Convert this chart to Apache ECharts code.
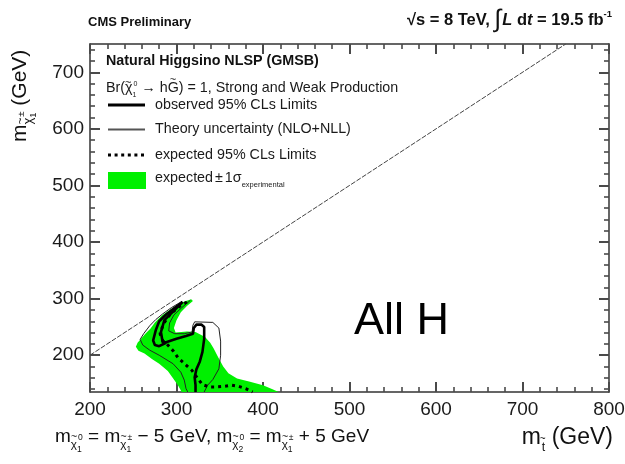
<!DOCTYPE html>
<html>
<head>
<meta charset="utf-8">
<script src="https://cdn.jsdelivr.net/npm/echarts@6/dist/echarts.min.js"></script>
<style>
  html, body { margin: 0; padding: 0; background: #fff; }
  #chart { width: 625px; height: 464px; }
</style>
</head>
<body>
<div id="chart"></div>
<script>
// Exclusion contours in the (stop mass, chargino mass) plane, values in GeV.

// Expected +-1 sigma experimental band (closed outline)
const bandX = [317, 319, 312, 305, 300, 297, 299, 312, 322, 333, 339, 343, 348, 354, 360, 370, 385, 400, 411, 418,
               306, 302, 297, 290, 280, 272, 263, 256, 253, 255, 259, 264, 270, 275, 283, 294, 306];
const bandY = [299, 296, 287, 276, 262, 248, 240, 242, 241, 232, 222, 212, 197, 180, 168, 159, 153, 147, 140, 135,
               135, 146, 157, 172, 185, 193, 203, 208, 215, 222, 229, 238, 247, 258, 270, 282, 293];

// Observed 95% CLs limit
const obsX = [322, 322, 321, 323, 327, 330, 332, 332, 329, 323, 320, 319, 311, 300, 288, 284, 282, 286, 296, 307,
              298, 288, 280, 276, 273, 275, 280, 288];
const obsY = [135, 147, 161, 175, 189, 206, 229, 250, 254, 254, 248, 238, 234, 229, 223, 223, 241, 262, 277, 294,
              284, 272, 260, 244, 226, 218, 216, 222];

// Expected 95% CLs limit
const expX = [312, 304, 293, 285, 281, 284, 290, 296, 302, 310, 318, 324, 330, 338, 346, 355, 364, 372, 380, 388];
const expY = [294, 287, 273, 256, 238, 226, 218, 208, 195, 184, 173, 160, 148, 144, 144, 145, 147, 145, 141, 135];

// Observed limit shifted by the theory uncertainty (upper / lower)
const thUpX = [332, 336, 342, 349, 351, 351, 349, 342, 321, 319, 318, 309, 298, 291, 292, 297, 306, 316];
const thUpY = [135, 147, 157, 176, 200, 225, 248, 258, 259, 253, 241, 238, 238, 243, 257, 271, 284, 297];
const thDnX = [313, 311, 309, 305, 296, 280, 269, 261, 258, 262, 269, 276, 284, 294, 305];
const thDnY = [135, 141, 156, 170, 185, 200, 209, 218, 228, 238, 252, 263, 273, 284, 294];

// Kinematic boundary m(stop) = m(chargino)
const diagX = [200, 750];
const diagY = [200, 750];

// Axis ranges and tick values
const xRange = [200, 800];
const yRange = [135, 750];
const yMajor = [200, 300, 400, 500, 600, 700];
const yMinor = [140, 160, 180, 220, 240, 260, 280, 320, 340, 360, 380, 420, 440, 460, 480,
                520, 540, 560, 580, 620, 640, 660, 680, 720, 740];

const FONT = '"Liberation Sans", Arial, Helvetica, sans-serif';
const pairs = (xs, ys) => xs.map((x, i) => [x, ys[i]]);

// --- small helper to lay out text with sub/superscripts ---
const mctx = document.createElement('canvas').getContext('2d');
function tw(t, s, w, st) {
  mctx.font = (st || 'normal') + ' ' + (w || 'normal') + ' ' + s + 'px ' + FONT;
  return mctx.measureText(t).width;
}
// parts: {t, s, dy, w, st} | {tilde, s, back, dy} | {sup, sub, s, upDy, dnDy}; baseline at (x, y)
function mathText(x, y, parts, color, align) {
  color = color || '#111';
  const items = [];
  let cx = 0;
  parts.forEach(p => {
    if (p.tilde) {
      items.push({ t: '~', s: p.s, x: cx - p.back, y: p.dy });
      return;
    }
    if (p.sup !== undefined || p.sub !== undefined) {
      let wmax = 0;
      if (p.sup !== undefined) {
        items.push({ t: p.sup, s: p.s, x: cx + (p.supDx || 0), y: p.upDy });
        wmax = Math.max(wmax, tw(p.sup, p.s) + (p.supDx || 0));
      }
      if (p.sub !== undefined) {
        items.push({ t: p.sub, s: p.s, x: cx, y: p.dnDy });
        wmax = Math.max(wmax, tw(p.sub, p.s));
      }
      cx += wmax + (p.gap || 0);
      return;
    }
    items.push({ t: p.t, s: p.s, x: cx, y: p.dy || 0, w: p.w, st: p.st });
    cx += tw(p.t, p.s, p.w, p.st) + (p.gap || 0);
  });
  const x0 = align === 'right' ? x - cx : x;
  return {
    type: 'group', x: x0, y: y,
    children: items.map(it => ({
      type: 'text', x: it.x, y: it.y - 0.34 * it.s,
      style: {
        text: it.t, fill: color, fontSize: it.s, fontFamily: FONT,
        fontWeight: it.w || 'normal', fontStyle: it.st || 'normal',
        verticalAlign: 'middle', align: 'left'
      }
    }))
  };
}
// m with a chi-tilde subscript carrying stacked charge/index labels
function mChi(size, up, dn) {
  const s2 = size * 0.62, s3 = size * 0.45;
  return [
    { t: 'm', s: size },
    { t: 'χ', s: s2, dy: size * 0.28 },
    { tilde: true, s: s2 * 0.9, back: s2 * 0.5, dy: size * 0.28 - s2 * 0.62 },
    { sup: up, sub: dn, s: s3, upDy: -size * 0.12, dnDy: size * 0.48, supDx: 1 }
  ];
}

const chart = echarts.init(document.getElementById('chart'), null, { renderer: 'canvas' });

const TICK = '#4a4a4a';
function xAx(pos, labels) {
  return {
    type: 'value', position: pos, min: xRange[0], max: xRange[1], interval: 100,
    axisLine: { show: true, onZero: false, lineStyle: { color: '#333', width: 1.5 } },
    axisTick: { show: true, inside: true, length: 10, lineStyle: { color: TICK, width: 2 } },
    minorTick: { show: true, splitNumber: 5, length: 5, lineStyle: { color: TICK, width: 1.6 } },
    axisLabel: { show: labels, fontSize: 19, color: '#1a1a1a', fontFamily: FONT, margin: 8 },
    splitLine: { show: false }
  };
}
function yAx(pos, values, len, width, labels, line) {
  return {
    type: 'value', position: pos, min: yRange[0], max: yRange[1],
    axisLine: { show: line, onZero: false, lineStyle: { color: '#333', width: 1.5 } },
    axisTick: { show: true, inside: true, length: len, lineStyle: { color: TICK, width: width }, customValues: values },
    axisLabel: { show: labels, fontSize: 19, color: '#1a1a1a', fontFamily: FONT, margin: 6, customValues: values },
    splitLine: { show: false }
  };
}

const lineSeries = (xs, ys, style, z) => ({
  type: 'line', data: pairs(xs, ys), showSymbol: false, symbol: 'none',
  lineStyle: style, clip: true, z: z, silent: true, smooth: false
});

const legendX = 155;
const txt = (x, y, text, size, weight, color) => ({
  type: 'text', x: x, y: y,
  style: { text: text, fontSize: size, fontWeight: weight || 'normal', fontFamily: FONT, fill: color || '#1a1a1a', verticalAlign: 'middle' }
});

const graphics = [
  txt(88, 22, 'CMS Preliminary', 13, 'bold', '#111'),
  mathText(612, 26, [
    { t: '√s = 8 TeV, ', s: 16.5, w: 'bold' },
    { t: '∫', s: 25, gap: 1, dy: 3 },
    { t: 'L', s: 16.5, w: 'bold', st: 'italic' },
    { t: ' d', s: 16.5, w: 'bold' },
    { t: 't', s: 16.5, w: 'bold', st: 'italic' },
    { t: ' = 19.5 fb', s: 16.5, w: 'bold' },
    { t: '-1', s: 9.5, w: 'bold', dy: -8.5 }
  ], '#111', 'right'),
  txt(106, 61, 'Natural Higgsino NLSP (GMSB)', 14.3, 'bold', '#111'),
  mathText(106, 93, [
    { t: 'Br(', s: 14.3 },
    { t: 'χ', s: 14.3 },
    { tilde: true, s: 11, back: 7.5, dy: -6 },
    { sup: '0', sub: '1', s: 7, upDy: -7, dnDy: 4, supDx: 1 },
    { t: ' → h', s: 14.3 },
    { t: 'G', s: 14.3 },
    { tilde: true, s: 11, back: 9, dy: -9.5 },
    { t: ') = 1, Strong and Weak Production', s: 14.3 }
  ], '#1a1a1a'),
  // legend entries
  { type: 'line', shape: { x1: 108, y1: 105, x2: 145, y2: 105 }, style: { stroke: '#000', lineWidth: 3 } },
  txt(legendX, 105, 'observed 95% CLs Limits', 14.3),
  { type: 'line', shape: { x1: 108, y1: 129.5, x2: 145, y2: 129.5 }, style: { stroke: '#555', lineWidth: 2 } },
  txt(legendX, 129, 'Theory uncertainty (NLO+NLL)', 14.3),
  { type: 'line', shape: { x1: 108, y1: 155, x2: 147, y2: 155 }, style: { stroke: '#000', lineWidth: 3, lineDash: [3, 3.6] } },
  txt(legendX, 155, 'expected 95% CLs Limits', 14.3),
  { type: 'rect', shape: { x: 108, y: 172, width: 38, height: 17 }, style: { fill: '#00f000' } },
  mathText(legendX, 183, [
    { t: 'expected', s: 14.3, gap: 2 },
    { t: '±', s: 14.3, gap: 2 },
    { t: '1σ', s: 14.3 },
    { t: 'experimental', s: 7.5, dy: 4 }
  ], '#1a1a1a'),
  // channel label
  txt(354, 322, 'All H', 45, 'normal', '#000'),
  // x axis title
  mathText(613, 445, [
    { t: 'm', s: 23, gap: 1 },
    { t: 't', s: 12.5, dy: 7 },
    { tilde: true, s: 10, back: 5.5, dy: -2 },
    { t: ' (GeV)', s: 23 }
  ], '#111', 'right'),
  // mass relations
  mathText(55, 443, [].concat(
    mChi(19, '0', '1'), [{ t: ' = ', s: 19 }],
    mChi(19, '±', '1'), [{ t: ' − 5 GeV, ', s: 19 }],
    mChi(19, '0', '2'), [{ t: ' = ', s: 19 }],
    mChi(19, '±', '1'), [{ t: ' + 5 GeV', s: 19 }]
  ), '#111'),
  // y axis title (rotated)
  {
    type: 'group', x: 27, y: 142, rotation: Math.PI / 2,
    children: [mathText(0, 0, [].concat(mChi(21, '±', '1'), [{ t: ' (GeV)', s: 21 }]), '#111')]
  }
];

chart.setOption({
  animation: false,
  backgroundColor: '#fff',
  grid: { left: 90, right: 16, top: 44, bottom: 72, containLabel: false, outerBoundsMode: 'none' },
  xAxis: [xAx('bottom', true), xAx('top', false)],
  yAxis: [
    yAx('left', yMajor, 10, 2, true, true),
    yAx('left', yMinor, 5, 1.6, false, false),
    yAx('right', yMajor, 10, 2, false, true),
    yAx('right', yMinor, 5, 1.6, false, false)
  ],
  series: [
    {
      type: 'custom', data: [[300, 200]], clip: true, silent: true, z: 1,
      renderItem: (params, api) => ({
        type: 'polygon',
        shape: { points: bandX.map((x, i) => api.coord([x, bandY[i]])) },
        style: { fill: '#00f000', stroke: null }
      })
    },
    lineSeries(diagX, diagY, { color: '#444', width: 1, type: [5, 1.5] }, 2),
    lineSeries(thUpX, thUpY, { color: '#222', width: 1 }, 3),
    lineSeries(thDnX, thDnY, { color: '#222', width: 1 }, 3),
    lineSeries(expX, expY, { color: '#000', width: 3, type: [3, 4] }, 4),
    lineSeries(obsX, obsY, { color: '#000', width: 2.6 }, 5)
  ],
  graphic: graphics
});
</script>
</body>
</html>
